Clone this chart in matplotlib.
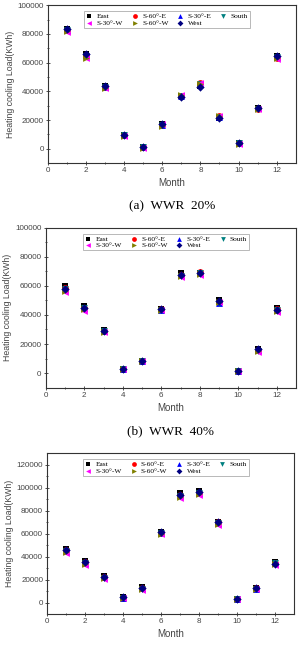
import numpy as np
import matplotlib
matplotlib.use('Agg')
import matplotlib.pyplot as plt

# 月份
months = np.arange(1, 13)

# 系列名称与样式
names = ['East', 'S-60°-E', 'S-30°-E', 'South', 'S-30°-W', 'S-60°-W', 'West']
markers = ['s', 'o', '^', 'v', '<', '>', 'D']
colors = ['black', 'red', 'blue', '#008080', 'magenta', '#808000', '#000080']

# WWR 20%
wwr20_east = [83500, 66000, 43500, 9500, 1000, 17000, 36500, 43500, 21500, 3800, 28500, 64500]
wwr20_s60e = [82500, 64500, 42800, 9300, 900, 16500, 37000, 45500, 22500, 3700, 28000, 63500]
wwr20_s30e = [83000, 65000, 43000, 9400, 950, 16800, 36800, 45000, 22000, 3700, 28200, 64000]
wwr20_south = [82800, 64800, 43000, 9400, 950, 16600, 37000, 45200, 22200, 3700, 28000, 63800]
wwr20_s30w = [81500, 63000, 42000, 9000, 800, 17500, 37500, 45500, 23000, 3600, 27500, 62500]
wwr20_s60w = [82000, 63500, 42500, 9200, 850, 16000, 37200, 45000, 22500, 3600, 27800, 63000]
wwr20_west = [83500, 65800, 43500, 9500, 1000, 17000, 36200, 43200, 21200, 3800, 28500, 64500]

# WWR 40%
wwr40_east = [60000, 46200, 29800, 3000, 8600, 44000, 68500, 69000, 50000, 1600, 16500, 45000]
wwr40_s60e = [58500, 45000, 29000, 2900, 8500, 43800, 67500, 69500, 49000, 1500, 16000, 44000]
wwr40_s30e = [58000, 44800, 28800, 2900, 8500, 43600, 67200, 69000, 48000, 1500, 15800, 43500]
wwr40_south = [57800, 44500, 28700, 2900, 8400, 43500, 67000, 68500, 48500, 1500, 15500, 43200]
wwr40_s30w = [55500, 43000, 28000, 2800, 8300, 43200, 66000, 67500, 49000, 1400, 14500, 42000]
wwr40_s60w = [56500, 43800, 28500, 2800, 8300, 43400, 66500, 68000, 48800, 1400, 15000, 42800]
wwr40_west = [57500, 44500, 28800, 3000, 8500, 44000, 67500, 68800, 49500, 1500, 16500, 43500]

# WWR 60%
wwr60_east = [47000, 36000, 23000, 4500, 13500, 61500, 95000, 97000, 70500, 3000, 12500, 35500]
wwr60_s60e = [45500, 35000, 22000, 4300, 12500, 61000, 94000, 95500, 70000, 2900, 12300, 34500]
wwr60_s30e = [45000, 34500, 21800, 4300, 12300, 60800, 93500, 95000, 69500, 2900, 12200, 34200]
wwr60_south = [44800, 34200, 21500, 4200, 12200, 60500, 93000, 95000, 69000, 2900, 12200, 34000]
wwr60_s30w = [43000, 33000, 20500, 4000, 11000, 59500, 91000, 93500, 67500, 2800, 12000, 33000]
wwr60_s60w = [44000, 33800, 21000, 4100, 11500, 60000, 92000, 94500, 68500, 2800, 12100, 33500]
wwr60_west = [45500, 35000, 22000, 4500, 13000, 61500, 93500, 96000, 70500, 3000, 12500, 33500]

panels = [
    ([wwr20_east, wwr20_s60e, wwr20_s30e, wwr20_south, wwr20_s30w, wwr20_s60w, wwr20_west],
     '(a)  WWR  20%', (-10000, 100000), np.arange(0, 100001, 20000),
     [0.158, 0.749, 0.818, 0.243]),
    ([wwr40_east, wwr40_s60e, wwr40_s30e, wwr40_south, wwr40_s30w, wwr40_s60w, wwr40_west],
     '(b)  WWR  40%', (-10000, 100000), np.arange(0, 100001, 20000),
     [0.151, 0.4035, 0.826, 0.2465]),
    ([wwr60_east, wwr60_s60e, wwr60_s30e, wwr60_south, wwr60_s30w, wwr60_s60w, wwr60_west],
     '(c)  WWR  60%', (-10000, 130000), np.arange(0, 120001, 20000),
     [0.156, 0.0554, 0.814, 0.2472]),
]

# 图例按行排列（matplotlib 按列填充）
leg_order = [0, 4, 1, 5, 2, 6, 3]

fig = plt.figure(figsize=(3.03, 6.5), dpi=100)
sans = 'Liberation Sans'
serif = 'Liberation Serif'

for series, caption, ylim, yticks, pos in panels:
    ax = fig.add_axes(pos)
    for vals, name, m, c in zip(series, names, markers, colors):
        s = 18 if m == 'D' else 24
        ax.scatter(months, vals, marker=m, color=c, s=s, label=name, linewidths=0, zorder=3)
    ax.set_xlim(0, 13)
    ax.set_ylim(*ylim)
    ax.set_xticks(np.arange(0, 13, 2))
    ax.set_xticks(np.arange(1, 13, 2), minor=True)
    ax.set_yticks(yticks)
    ax.set_yticks(yticks[:-1] + 10000, minor=True)
    ax.tick_params(which='both', direction='inout', labelsize=5.8, colors='#333333',
                   width=0.6, pad=1.5)
    ax.tick_params(which='major', length=3)
    ax.tick_params(which='minor', length=2)
    for lab in ax.get_xticklabels() + ax.get_yticklabels():
        lab.set_family(sans)
        lab.set_color('#444444')
    for sp in ax.spines.values():
        sp.set_linewidth(0.8)
        sp.set_color('#333333')
    ax.set_xlabel('Month', fontsize=7, family=sans, color='#444444', labelpad=3)
    ax.set_ylabel('Heating cooling Load(KWh)', fontsize=6.3, family=sans, color='#444444', labelpad=2)
    handles, labels = ax.get_legend_handles_labels()
    leg = ax.legend([handles[i] for i in leg_order], [labels[i] for i in leg_order],
                    loc='upper center', ncol=4, prop={'family': serif, 'size': 5.3},
                    frameon=True, fancybox=False, edgecolor='#999999', borderpad=0.25,
                    handletextpad=0.5, columnspacing=1.1, labelspacing=0.05, markerscale=0.7,
                    bbox_to_anchor=(0.48, 0.985), handlelength=1.0)
    leg.get_frame().set_linewidth(0.6)
    ax.text(0.5, -0.235, caption, transform=ax.transAxes, ha='center', va='top',
            fontsize=9.5, family=serif)

fig.savefig('out.png', dpi=100)
